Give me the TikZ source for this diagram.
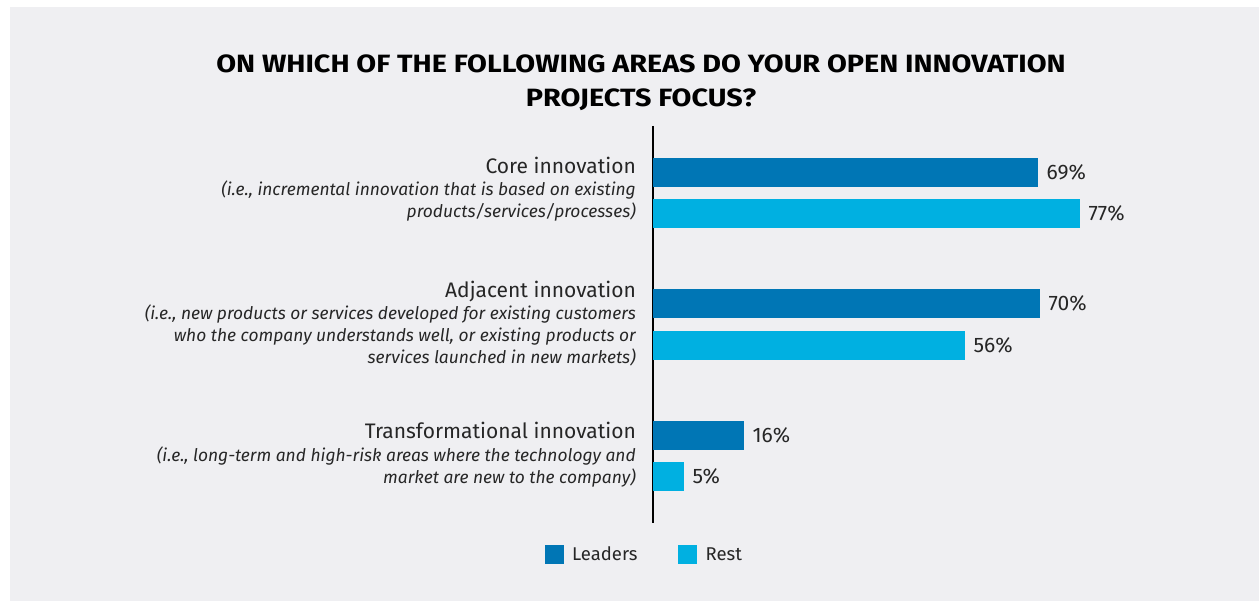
\documentclass[tikz,border=0pt]{standalone}
\usepackage{fontspec}
\setmainfont{Fira Sans}
\newfontfamily\titlefont[FakeStretch=1.15]{Fira Sans}
\usetikzlibrary{calc}
\definecolor{bgc}{HTML}{EFEFF2}
\definecolor{leadc}{HTML}{0076B5}
\definecolor{restc}{HTML}{00B0E1}
\definecolor{txt}{HTML}{262626}
\tikzset{
  bar/.style={draw=none, inner sep=0pt, minimum height=29pt, anchor=west},
  pct/.style={anchor=base west, inner sep=0pt, text=txt, font=\fontsize{21}{22}\selectfont},
  cat/.style={anchor=base east, inner sep=0pt, text=txt, font=\fontsize{21}{22}\selectfont},
  sub/.style={anchor=base east, inner sep=0pt, text=txt, font=\fontsize{17.4}{22}\selectfont\itshape},
  legbox/.style={draw=none, inner sep=0pt, minimum size=19pt},
  legtxt/.style={anchor=base west, inner sep=0pt, text=txt, font=\fontsize{18.5}{22}\selectfont},
  ttl/.style={inner sep=0pt, text=black, font=\titlefont\fontsize{25}{34}\selectfont\bfseries}
}
\begin{document}
\begin{tikzpicture}[x=1pt,y=-1pt]
\useasboundingbox (0,0) rectangle (1259,601);
\fill[bgc] (10,7) rectangle (1259,601);

% title
\node[ttl, anchor=base] (t1) at (641,73) {ON WHICH OF THE FOLLOWING AREAS DO YOUR OPEN INNOVATION};
\node[ttl, anchor=base] (t2) at (641,107) {PROJECTS FOCUS?};

% axis
\coordinate (atop) at (652.5,126);
\coordinate (abot) at (652.5,523);
\draw[line width=2pt, black] (atop) -- (abot);

% bars
\node[bar, fill=leadc, minimum width=385pt] (b1) at (653,172.5) {};
\node[bar, fill=restc, minimum width=427pt] (b2) at (653,213.5) {};
\node[bar, fill=leadc, minimum width=387pt] (b3) at (653,304) {};
\node[bar, fill=restc, minimum width=312pt] (b4) at (653,346) {};
\node[bar, fill=leadc, minimum width=91pt] (b5) at (653,436) {};
\node[bar, fill=restc, minimum width=31pt] (b6) at (653,477) {};

% values
\node[pct] (v1) at ($(b1.east)+(8,7)$) {69\%};
\node[pct] (v2) at ($(b2.east)+(8,7)$) {77\%};
\node[pct] (v3) at ($(b3.east)+(8,7)$) {70\%};
\node[pct] (v4) at ($(b4.east)+(8,7)$) {56\%};
\node[pct] (v5) at ($(b5.east)+(8,7)$) {16\%};
\node[pct] (v6) at ($(b6.east)+(8,7)$) {5\%};

% category labels
\node[cat] (c1) at (636,174) {Core innovation};
\node[sub] (c1a) at (636,196) {(i.e., incremental innovation that is based on existing};
\node[sub] (c1b) at (636,218) {products/services/processes)};

\node[cat] (c2) at (636,298) {Adjacent innovation};
\node[sub] (c2a) at (636,320) {(i.e., new products or services developed for existing customers};
\node[sub] (c2b) at (636,342) {who the company understands well, or existing products or};
\node[sub] (c2c) at (636,364) {services launched in new markets)};

\node[cat] (c3) at (636,439) {Transformational innovation};
\node[sub] (c3a) at (636,462) {(i.e., long-term and high-risk areas where the technology and};
\node[sub] (c3b) at (636,484) {market are new to the company)};

% legend
\node[legbox, fill=leadc] (l1) at (554.5,554.5) {};
\node[legtxt] (l1t) at (572,560) {Leaders};
\node[legbox, fill=restc] (l2) at (687.5,554.5) {};
\node[legtxt] (l2t) at (705.5,560) {Rest};
\end{tikzpicture}
\end{document}
